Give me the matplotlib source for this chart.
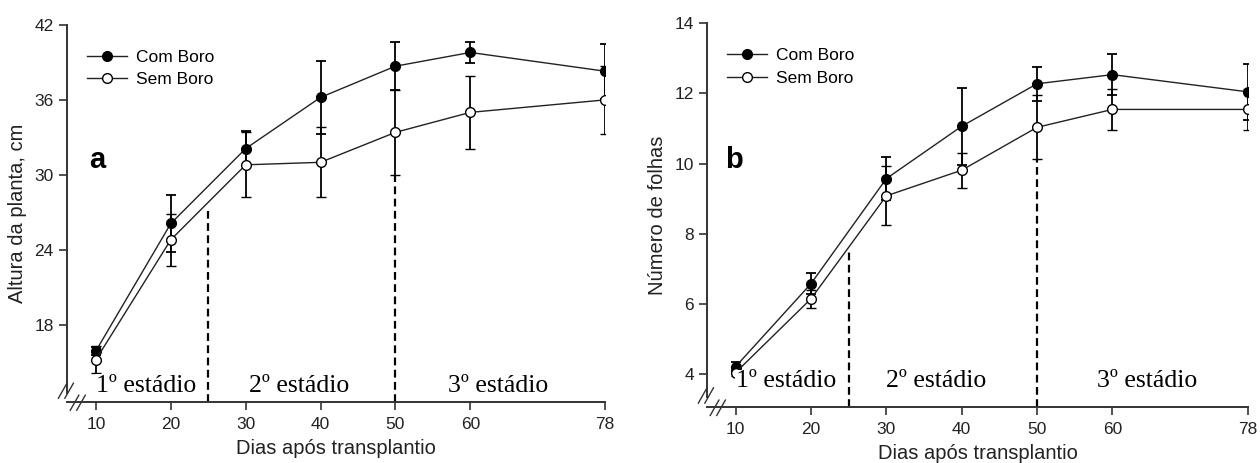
import matplotlib
matplotlib.use("Agg")
import matplotlib.pyplot as plt
from matplotlib.lines import Line2D

plt.rcParams['font.family'] = ['Liberation Sans', 'DejaVu Sans']

days = [10, 20, 30, 40, 50, 60, 78]
xticks = [10, 20, 30, 40, 50, 60, 78]

# Panel a: plant height (cm)
alt_com = [15.9, 26.1, 32.1, 36.2, 38.7, 39.8, 38.3]
alt_com_err = [0.3, 2.3, 1.4, 2.9, 1.9, 0.85, 2.2]
alt_sem = [15.2, 24.8, 30.8, 31.0, 33.4, 35.0, 36.0]
alt_sem_err = [1.1, 2.1, 2.6, 2.8, 3.4, 2.9, 2.7]

# Panel b: number of leaves
fol_com = [4.22, 6.58, 9.57, 11.06, 12.27, 12.53, 12.04]
fol_com_err = [0.12, 0.29, 0.61, 1.09, 0.49, 0.58, 0.80]
fol_sem = [4.05, 6.15, 9.08, 9.81, 11.03, 11.54, 11.54]
fol_sem_err = [0.1, 0.26, 0.84, 0.50, 0.91, 0.59, 0.59]

stage_labels = ['1º estádio', '2º estádio', '3º estádio']
legend_labels = ['Com Boro', 'Sem Boro']

fig = plt.figure(figsize=(12.6, 4.63), dpi=100)

W, H = 1260, 463
def axes_rect(l, r, t, b):
    return [l / W, 1 - b / H, (r - l) / W, (b - t) / H]

ax1 = fig.add_axes(axes_rect(67, 605, 25, 402))
ax2 = fig.add_axes(axes_rect(707, 1248, 23, 407))

LINE_C = '#222222'

def draw_panel(ax, xlim, com, com_err, sem, sem_err, ylim, yticks, ylabel,
               letter, letter_xy, dash_tops, stage_x, stage_y, leg_y):
    ax.errorbar(days, com, yerr=com_err, color=LINE_C, lw=1.0,
                marker='o', ms=7, mfc='black', mec='black',
                ecolor='black', elinewidth=1.3, capsize=3.5, capthick=1.3,
                zorder=3)
    ax.errorbar(days, sem, yerr=sem_err, color=LINE_C, lw=1.0,
                marker='o', ms=7, mfc='white', mec='black', mew=1.0,
                ecolor='black', elinewidth=1.3, capsize=3.5, capthick=1.3,
                zorder=3)
    for xv, top in zip([25, 50], dash_tops):
        ax.plot([xv, xv], [ylim[0], top], color='black', lw=1.6,
                ls=(0, (3.5, 2)), zorder=2)
    for xs, lab in zip(stage_x, stage_labels):
        ax.text(xs, stage_y, lab, family='Liberation Serif', fontsize=18.5,
                ha='left', va='center', zorder=4,
                bbox=dict(facecolor='white', edgecolor='none', pad=0.5))
    ax.text(letter_xy[0], letter_xy[1], letter, fontsize=21, fontweight='bold',
            ha='center', va='center', zorder=4,
            bbox=dict(facecolor='white', edgecolor='none', pad=4))
    ax.set_xlim(*xlim)
    ax.set_ylim(*ylim)
    ax.set_xticks(xticks)
    ax.set_yticks(yticks)
    ax.tick_params(labelsize=12.5, direction='out', length=5.5, width=1.2,
                   colors='#333333', labelcolor='#222222')
    ax.tick_params(axis='x', pad=5)
    ax.tick_params(axis='y', pad=4)
    ax.set_xlabel('Dias após transplantio', fontsize=14.5, color='#222222',
                  labelpad=5)
    ax.set_ylabel(ylabel, fontsize=14.5, color='#222222', labelpad=5)
    for s in ['top', 'right']:
        ax.spines[s].set_visible(False)
    for s in ['left', 'bottom']:
        ax.spines[s].set_linewidth(1.4)
        ax.spines[s].set_color('#333333')
    span = ylim[1] - ylim[0]
    ax.spines['left'].set_bounds(ylim[0] + 0.025 * span, ylim[1])
    # axis break marks
    tr = ax.transAxes
    for dx in [0.0, 0.012]:
        ax.plot([-0.016 + dx, 0.0 + dx], [0.01, 0.05], transform=tr,
                color='#333333', lw=1.0, clip_on=False)
    for dx in [0.0, 0.012]:
        ax.plot([0.006 + dx, 0.022 + dx], [-0.022, 0.018], transform=tr,
                color='#333333', lw=1.0, clip_on=False)
    handles = [
        Line2D([], [], color=LINE_C, lw=1.0, marker='o', ms=7,
               mfc='black', mec='black'),
        Line2D([], [], color=LINE_C, lw=1.0, marker='o', ms=7,
               mfc='white', mec='black'),
    ]
    ax.legend(handles, legend_labels, loc='upper left',
              bbox_to_anchor=(0.037, leg_y), frameon=False, fontsize=12.5,
              handlelength=2.3, handletextpad=0.55, labelspacing=0.43,
              borderaxespad=0, borderpad=0)

draw_panel(ax1, (6.13, 78), alt_com, alt_com_err, alt_sem, alt_sem_err,
           (11.8, 42), [18, 24, 30, 36, 42], 'Altura da planta, cm', 'a',
           (10.2, 31.2), (27.1, 30.0), (10.0, 30.5, 57.0), 13.1, 0.935)
draw_panel(ax2, (6.2, 78), fol_com, fol_com_err, fol_sem, fol_sem_err,
           (3.07, 14), [4, 6, 8, 10, 12, 14], 'Número de folhas', 'b',
           (9.8, 10.1), (7.55, 10.13), (10.0, 30.0, 58.0), 3.8, 0.935)

fig.savefig('out.png', dpi=100, facecolor='white')
